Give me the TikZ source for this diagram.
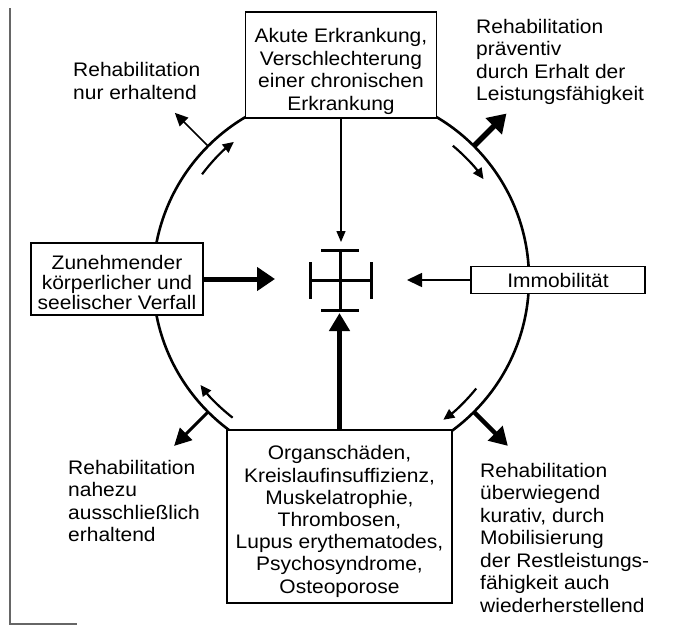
\documentclass[tikz,border=0pt]{standalone}
\usepackage{fontspec}
\setmainfont{Liberation Sans}[FakeStretch=1.07]
\usepackage{tikz}
\usetikzlibrary{arrows.meta}

\begin{document}
\begin{tikzpicture}
  [x=1pt,y=-1pt,
   every node/.style={font=\fontsize{19.6}{22.5}\selectfont},
   box/.style={draw,line width=1.4pt,fill=white,align=center,inner sep=0pt},
   lbl/.style={anchor=north west,align=left,inner sep=0pt},
   lightarrow/.style={line width=1.4pt,-{Triangle[length=11pt,width=9pt]}},
   heavyarrow/.style={line width=5pt,-{Triangle[length=18pt,width=23pt]}},
   turnarrow/.style={line width=2.2pt,-{Triangle[length=11pt,width=10pt]}}]
  \useasboundingbox (0,0) rectangle (677,632);
  \draw[line width=1.2pt,gray!80!black] (10,8) -- (10,624) -- (77,624);

  \coordinate (c) at (341,279);
  \draw[line width=2.6pt] (c) circle[radius=188];

  % Kreuz in der Mitte
  \begin{scope}[line width=3pt]
    \draw (340,250) -- (340,310);
    \draw (321,250) -- (359,250);
    \draw (321,310) -- (359,310);
    \draw (310,280) -- (371,280);
    \draw (310,262) -- (310,299);
    \draw (371,262) -- (371,299);
  \end{scope}
  \coordinate (kn) at (341,242);
  \coordinate (kw) at (275,279);
  \coordinate (ko) at (407,280);
  \coordinate (ks) at (339.5,313);

  \node[box,minimum width=191pt,minimum height=106pt] (akut) at (341,65)
    {\rule{0pt}{27pt}Akute Erkrankung,\\Verschlechterung\\einer chronischen\\Erkrankung};
  \node[box,minimum width=172pt,minimum height=72pt,font=\fontsize{19.6}{20}\selectfont] (verfall) at (117,279)
    {\rule{0pt}{22pt}Zunehmender\\körperlicher und\\seelischer Verfall};
  \node[box,minimum width=174pt,minimum height=27pt] (immo) at (558,280) {Immobilität};
  \node[box,minimum width=225pt,minimum height=173pt,font=\fontsize{19.6}{22.2}\selectfont] (organ) at (339.5,516.5)
    {\rule{0pt}{24pt}Organschäden,\\Kreislaufinsuffizienz,\\Muskelatrophie,\\Thrombosen,\\Lupus erythematodes,\\Psychosyndrome,\\Osteoporose};

  \draw[lightarrow] (akut.south) -- (kn);
  \draw[heavyarrow] (verfall.east) -- (kw);
  \draw[line width=1.6pt,-{Triangle[length=15pt,width=14pt]}] (immo.west) -- (ko);
  \draw[line width=4.5pt,-{Triangle[length=18pt,width=20pt]}] (organ.north) -- (ks);

  % Pfeile nach aussen
  \coordinate (tlA) at ([shift={(-135:188)}]c);
  \coordinate (tlB) at ([shift={(-135:235)}]c);
  \coordinate (trA) at ([shift={(-45:188)}]c);
  \coordinate (trB) at ([shift={(-45:234)}]c);
  \coordinate (blA) at ([shift={(135:188)}]c);
  \coordinate (blB) at ([shift={(135:236)}]c);
  \coordinate (brA) at ([shift={(45:188)}]c);
  \coordinate (brB) at ([shift={(45:236)}]c);
  \draw[line width=1.6pt,-{Triangle[length=13pt,width=12pt]}] (tlA) -- (tlB);
  \draw[line width=5.5pt,-{Triangle[length=18pt,width=22pt]}] (trA) -- (trB);
  \draw[line width=3pt,-{Triangle[length=17pt,width=17pt]}] (blA) -- (blB);
  \draw[line width=4.5pt,-{Triangle[length=18pt,width=20pt]}] (brA) -- (brB);

  % Pfeile am Kreis entlang
  \draw[turnarrow] ([shift={(-143:174)}]c) arc[start angle=-143,end angle=-128,radius=174];
  \draw[turnarrow] ([shift={(-50:174)}]c) arc[start angle=-50,end angle=-35,radius=174];
  \draw[turnarrow] ([shift={(128:176)}]c) arc[start angle=128,end angle=143,radius=176];
  \draw[turnarrow] ([shift={(39:174)}]c) arc[start angle=39,end angle=54,radius=174];

  \node[lbl,font=\fontsize{19.6}{23.5}\selectfont] (rnur) at (73,62) {Rehabilitation\\nur erhaltend};
  \node[lbl] (rprae) at (476,19) {Rehabilitation\\präventiv\\durch Erhalt der\\Leistungsfähigkeit};
  \node[lbl] (rnah) at (68,460) {Rehabilitation\\nahezu\\ausschließlich\\erhaltend};
  \node[lbl] (rkur) at (480,463) {Rehabilitation\\überwiegend\\kurativ, durch\\Mobilisierung\\der Restleistungs-\\fähigkeit auch\\wiederherstellend};
\end{tikzpicture}
\end{document}
